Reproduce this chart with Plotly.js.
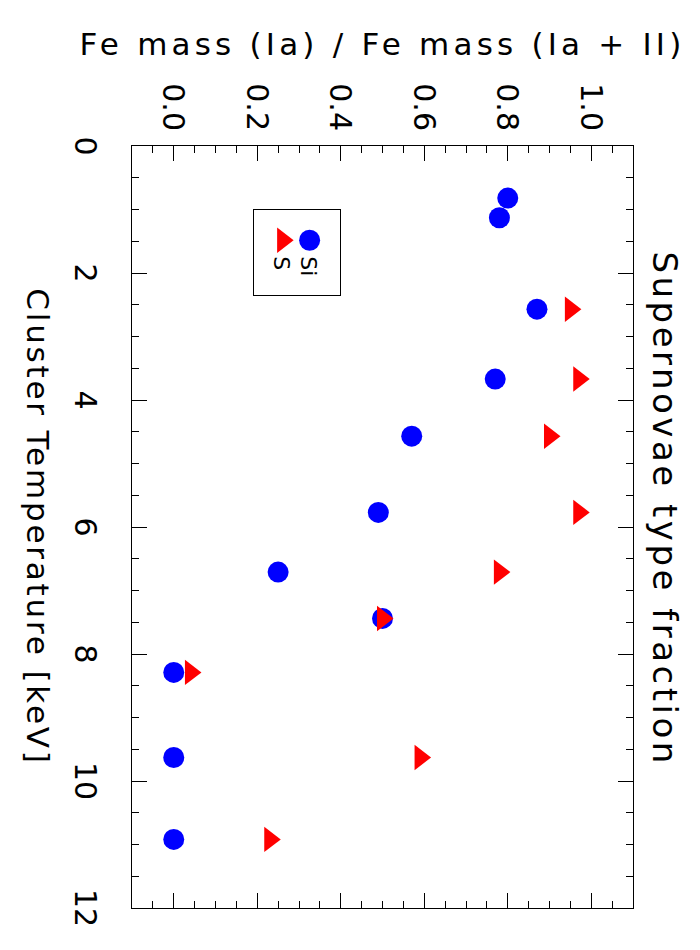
<!DOCTYPE html>
<html>
<head>
<meta charset="utf-8">
<script src="https://cdn.plot.ly/plotly-3.0.1.min.js"></script>
<style>
  html, body { margin: 0; padding: 0; background: white; overflow: hidden; }
  #wrap { width: 700px; height: 950px; position: relative; overflow: hidden; }
  /* the chart is drawn landscape and turned a quarter turn clockwise */
  #chart {
    position: absolute; left: 0; top: 0;
    width: 950px; height: 700px;
    transform-origin: 0 0;
    transform: translate(700px, 0) rotate(90deg);
  }
  /* the original lettering is a wide plotter font */
  #chart .gtitle { letter-spacing: 3.5px; }
  #chart .xtitle { letter-spacing: 2.8px; }
  #chart .ytitle { letter-spacing: 4.2px; }
</style>
</head>
<body>
<div id="wrap"><div id="chart"></div></div>
<script>
// cluster temperature [keV] and Fe mass fraction from SN Ia
const siTemp = [0.82, 1.13, 2.57, 3.67, 4.57, 5.77, 6.71, 7.44, 8.29, 9.63, 10.92];
const siFrac = [0.80, 0.78, 0.87, 0.77, 0.57, 0.49, 0.25, 0.50, 0.00, 0.00, 0.00];

const sTemp = [2.57, 3.67, 4.57, 5.77, 6.71, 7.44, 8.29, 9.63, 10.92];
const sFrac = [0.95, 0.97, 0.90, 0.97, 0.78, 0.50, 0.04, 0.59, 0.23];

const fracTicks = [0, 0.2, 0.4, 0.6, 0.8, 1.0];
const fracLabels = ["0.0", "0.2", "0.4", "0.6", "0.8", "1.0"];

const font = "DejaVu Sans, sans-serif";

const traces = [
  {
    x: siTemp,
    y: siFrac,
    name: "Si",
    type: "scatter",
    mode: "markers",
    marker: { symbol: "circle", size: 21, color: "#0000ff" }
  },
  {
    x: sTemp,
    y: sFrac,
    name: "S",
    type: "scatter",
    mode: "markers",
    marker: { symbol: "triangle-up", size: 22, color: "#ff0000" }
  }
];

const axisCommon = {
  showline: true,
  linecolor: "black",
  linewidth: 1,
  mirror: "allticks",
  ticks: "inside",
  ticklen: 15,
  tickwidth: 1,
  tickcolor: "black",
  showgrid: false,
  zeroline: false,
  tickfont: { family: font, size: 30, color: "black" }
};

const layout = {
  width: 950,
  height: 700,
  margin: { l: 146, r: 42, t: 67, b: 132 },
  paper_bgcolor: "white",
  plot_bgcolor: "white",
  showlegend: true,
  title: {
    text: "Supernovae type fraction",
    font: { family: font, size: 34, color: "black" },
    xref: "container",
    yref: "container",
    x: 0.536,
    xanchor: "center",
    y: 0.95,
    yanchor: "middle"
  },
  xaxis: {
    ...axisCommon,
    range: [0, 12],
    tick0: 0,
    dtick: 2,
    ticklabelstandoff: 20,
    minor: { dtick: 0.5, ticks: "inside", ticklen: 7, tickcolor: "black", tickwidth: 1 },
    title: {
      text: "Cluster Temperature [keV]",
      font: { family: font, size: 31, color: "black" },
      standoff: 20
    }
  },
  yaxis: {
    ...axisCommon,
    range: [-0.1, 1.1],
    tickvals: fracTicks,
    ticktext: fracLabels,
    ticklabelstandoff: 8,
    minor: { tickvals: [-0.05, 0.05, 0.1, 0.15, 0.25, 0.3, 0.35, 0.45, 0.5, 0.55, 0.65, 0.7, 0.75, 0.85, 0.9, 0.95, 1.05], ticks: "inside", ticklen: 7, tickcolor: "black", tickwidth: 1 },
    title: {
      text: "Fe mass (Ia) / Fe mass (Ia + II)",
      font: { family: font, size: 31, color: "black" },
      standoff: 18
    }
  },
  legend: {
    x: 0.083,
    y: 0.418,
    xanchor: "left",
    yanchor: "top",
    bordercolor: "black",
    borderwidth: 1,
    bgcolor: "white",
    itemwidth: 36,
    font: { family: font, size: 22, color: "black" },
    tracegroupgap: 0
  }
};

Plotly.newPlot("chart", traces, layout, { displayModeBar: false, staticPlot: true }).then((gd) => {
  // plotly caps legend symbols at 16px; blow them back up to the plotted size
  const pts = gd.querySelectorAll(".legend .legendpoints path.scatterpts");
  pts.forEach((p, i) => {
    const box = p.getBBox();
    const isTri = traces[i].marker.symbol.startsWith("triangle");
    const shown = isTri ? box.width / 1.1547 : box.width;
    const k = traces[i].marker.size / shown;
    p.setAttribute("transform", `translate(30,0) scale(${k.toFixed(3)})`);
  });
  // tighter rows and a roomier box, as in the original
  const rows = gd.querySelectorAll(".legend g.traces");
  const firstY = parseFloat((rows[0].getAttribute("transform") || "").split(",")[1]) || 0;
  rows.forEach((r, i) => {
    const m = (r.getAttribute("transform") || "").match(/translate\(([-\d.]+)/);
    const x = m ? m[1] : 0;
    r.setAttribute("transform", `translate(${x},${firstY + i * 27})`);
  });
  const bg = gd.querySelector(".legend rect.bg");
  bg.setAttribute("width", 86);
  bg.setAttribute("height", 87);
  gd.querySelector(".legend .scrollbox").setAttribute("transform", "translate(0,10)");
});
</script>
</body>
</html>
